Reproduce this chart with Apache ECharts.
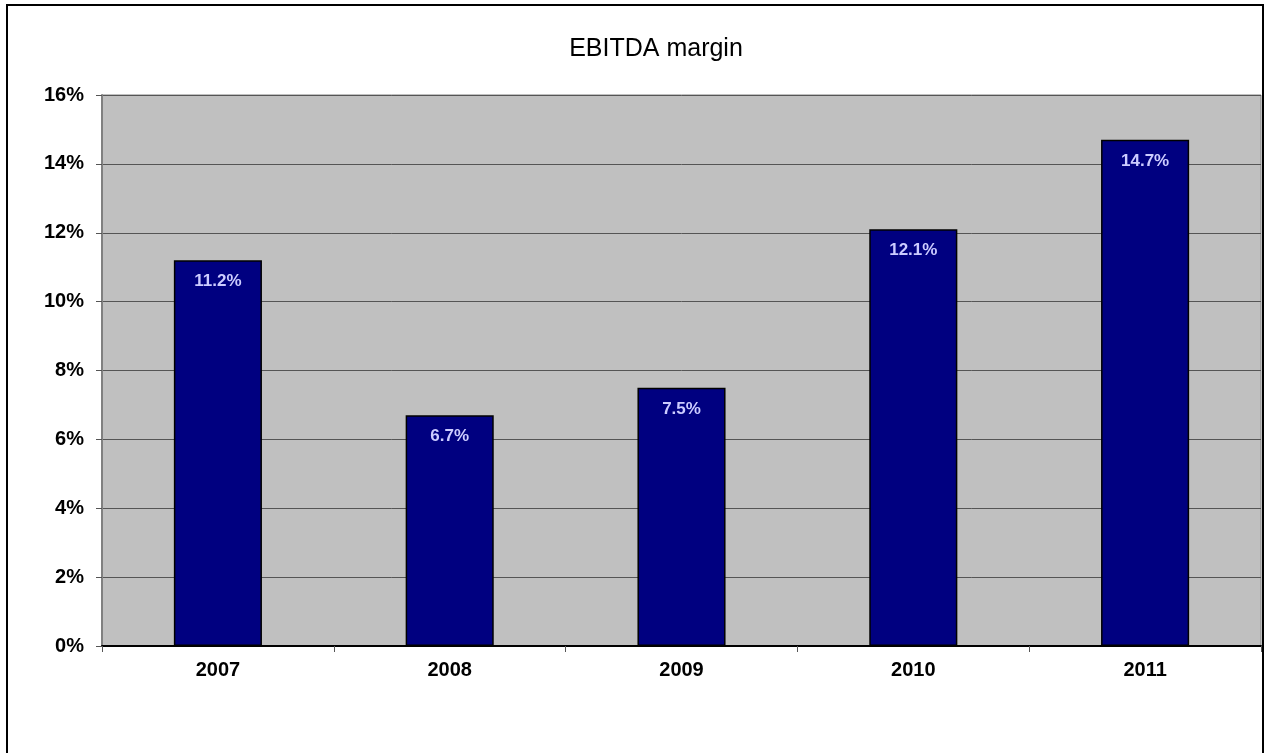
<!DOCTYPE html>
<html>
<head>
<meta charset="utf-8">
<script src="https://cdn.jsdelivr.net/npm/echarts@6/dist/echarts.min.js"></script>
<style>
html,body{margin:0;padding:0;background:#fff;}
#chart{width:1265px;height:753px;}
</style>
</head>
<body>
<div id="chart"></div>
<script>
const titleText = 'EBITDA margin';
const categories = ['2007', '2008', '2009', '2010', '2011'];
const margins = [11.2, 6.7, 7.5, 12.1, 14.7];
const yTicks = [0, 2, 4, 6, 8, 10, 12, 14, 16];

const chart = echarts.init(document.getElementById('chart'), null, {renderer: 'canvas'});
chart.setOption({
  animation: false,
  backgroundColor: '#ffffff',
  title: {
    text: titleText,
    left: 651,
    top: 32,
    textAlign: 'center',
    textStyle: {fontFamily: 'Liberation Sans, Arial, sans-serif', fontSize: 25, fontWeight: 'normal', color: '#000'}
  },
  graphic: [{
    type: 'rect',
    shape: {x: 7, y: 5, width: 1256, height: 800},
    style: {fill: 'none', stroke: '#000', lineWidth: 2},
    silent: true,
    z: 100
  }],
  grid: {
    left: 102, top: 95, right: 4, bottom: 107,
    show: true,
    backgroundColor: '#c0c0c0',
    borderColor: '#808080',
    borderWidth: 1
  },
  xAxis: {
    type: 'category',
    data: categories,
    boundaryGap: true,
    axisLine: {show: true, lineStyle: {color: '#000', width: 2}},
    axisTick: {show: true, length: 6, lineStyle: {color: '#555', width: 1}},
    axisLabel: {
      margin: 14,
      fontFamily: 'Liberation Sans, Arial, sans-serif',
      fontSize: 20, fontWeight: 'bold', color: '#000'
    },
    splitLine: {show: false}
  },
  yAxis: {
    type: 'value',
    min: yTicks[0],
    max: yTicks[yTicks.length - 1],
    interval: 2,
    axisLine: {show: true, lineStyle: {color: '#808080', width: 2}},
    axisTick: {show: true, length: 6, lineStyle: {color: '#555', width: 1}},
    axisLabel: {
      margin: 18,
      formatter: '{value}%',
      fontFamily: 'Liberation Sans, Arial, sans-serif',
      fontSize: 20, fontWeight: 'bold', color: '#000'
    },
    splitLine: {show: true, lineStyle: {color: '#555', width: 1}}
  },
  series: [{
    type: 'bar',
    data: margins,
    barWidth: '38%',
    itemStyle: {color: '#000080', borderColor: '#000', borderWidth: 1.5},
    label: {
      show: true,
      position: 'insideTop',
      distance: 13,
      formatter: function (p) { return p.value.toFixed(1) + '%'; },
      fontFamily: 'Liberation Sans, Arial, sans-serif',
      fontSize: 17, fontWeight: 'bold', color: '#ccccff'
    }
  }]
});
</script>
</body>
</html>
